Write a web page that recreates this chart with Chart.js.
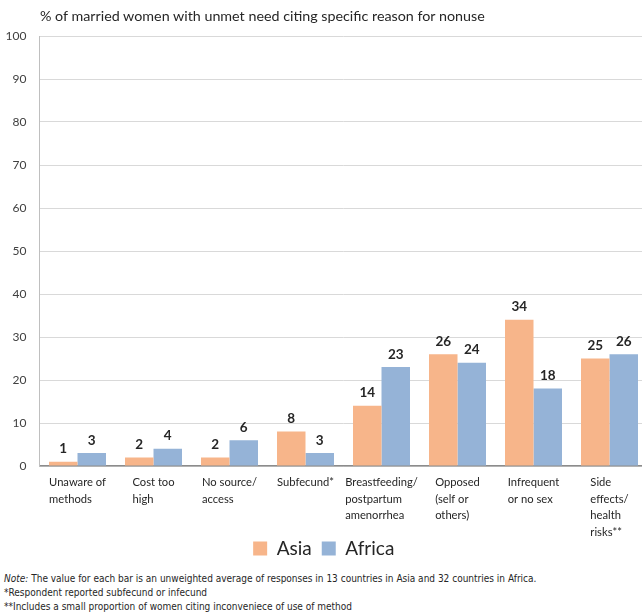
<!DOCTYPE html>
<html>
<head>
<meta charset="utf-8">
<script src="https://cdn.jsdelivr.net/npm/chart.js@4.4.1/dist/chart.umd.min.js"></script>
<style>
html,body{margin:0;padding:0;background:#fff;overflow:hidden;width:642px;height:616px;}
#titulo{position:absolute;left:40px;top:7px;font-family:Lato,sans-serif;font-size:14.3px;color:#262626;white-space:nowrap;}
#caja{position:absolute;left:0;top:0;width:660px;height:568px;}
#notas{position:absolute;left:4px;top:572px;font-family:"Liberation Sans Narrow","DejaVu Sans Condensed",sans-serif;font-size:10px;color:#262626;line-height:14px;white-space:nowrap;}
</style>
</head>
<body>
<div id="caja"><canvas id="myChart"></canvas></div>
<div id="titulo">% of married women with unmet need citing specific reason for nonuse</div>
<div id="notas"><i>Note:</i> The value for each bar is an unweighted average of responses in 13 countries in Asia and 32 countries in Africa.<br>*Respondent reported subfecund or infecund<br>**Includes a small proportion of women citing inconveniece of use of method</div>
<script>
var categorias = [
	["Unaware of","methods"],
	["Cost too","high"],
	["No source/","access"],
	["Subfecund*"],
	["Breastfeeding/","postpartum","amenorrhea"],
	["Opposed","(self or","others)"],
	["Infrequent","or no sex"],
	["Side","effects/","health","risks**"]
];
var valoresAsia = [1,2,2,8,14,26,34,25];
var valoresAfrica = [3,4,6,3,23,24,18,26];
var ticksY = [0,10,20,30,40,50,60,70,80,90,100];

var fuente = "Lato, sans-serif";

// etiquetas de valor encima de cada barra
var pluginValores = {
	id: 'valores',
	afterDatasetsDraw: function(chart){
		var ctx = chart.ctx;
		ctx.save();
		ctx.font = "bold 13.5px " + fuente;
		ctx.fillStyle = "#262626";
		ctx.textAlign = "center";
		ctx.textBaseline = "bottom";
		chart.data.datasets.forEach(function(ds, i){
			var meta = chart.getDatasetMeta(i);
			meta.data.forEach(function(bar, j){
				ctx.fillText(ds.data[j], bar.x, bar.y - 6);
			});
		});
		ctx.restore();
	}
};

// etiquetas de categoria: bloque centrado, lineas alineadas a la izquierda
var pluginCategorias = {
	id: 'categorias',
	afterDraw: function(chart){
		var ctx = chart.ctx;
		var x = chart.scales.x;
		ctx.save();
		ctx.font = "11.2px " + fuente;
		ctx.fillStyle = "#262626";
		ctx.textAlign = "left";
		ctx.textBaseline = "top";
		categorias.forEach(function(lineas, i){
			var ancho = 0;
			lineas.forEach(function(l){ ancho = Math.max(ancho, ctx.measureText(l).width); });
			var centro = x.getPixelForValue(i);
			var izq = centro - ancho/2;
			lineas.forEach(function(l, k){
				ctx.fillText(l, izq, chart.chartArea.bottom + 11 + k*16.5);
			});
		});
		ctx.restore();
	}
};

new Chart(document.getElementById("myChart"), {
	type: 'bar',
	data: {
		labels: categorias,
		datasets: [
			{ label: "Asia", data: valoresAsia, backgroundColor: "#F7B58A", borderWidth: 0 },
			{ label: "Africa", data: valoresAfrica, backgroundColor: "#95B3D7", borderWidth: 0 }
		]
	},
	options: {
		responsive: true,
		maintainAspectRatio: false,
		animation: false,
		layout: { padding: { top: 36, right: 12.5, left: 0, bottom: 0 } },
		plugins: {
			tooltip: { enabled: false },
			legend: {
				display: true,
				position: 'bottom',
				labels: {
					boxWidth: 14, boxHeight: 14, padding: 10,
					color: "#262626",
					font: { family: fuente, size: 19 }
				}
			}
		},
		datasets: { bar: { categoryPercentage: 0.75, barPercentage: 1.0 } },
		scales: {
			x: {
				grid: { display: false, drawTicks: false },
				border: { color: "#8C8C8C", width: 1.5 },
				ticks: { display: false },
				afterFit: function(scale){ scale.height = 63; }
			},
			y: {
				min: 0, max: 100,
				afterBuildTicks: function(scale){ scale.ticks = ticksY.map(function(v){ return {value: v}; }); },
				grid: { color: "#D9D9D9", drawTicks: false },
				border: { color: "#BFBFBF", width: 1 },
				ticks: { padding: 13, color: "#404040", font: { family: fuente, size: 12 } },
				afterFit: function(scale){ scale.width = 39.5; }
			}
		}
	},
	plugins: [pluginValores, pluginCategorias]
});
</script>
</body>
</html>
